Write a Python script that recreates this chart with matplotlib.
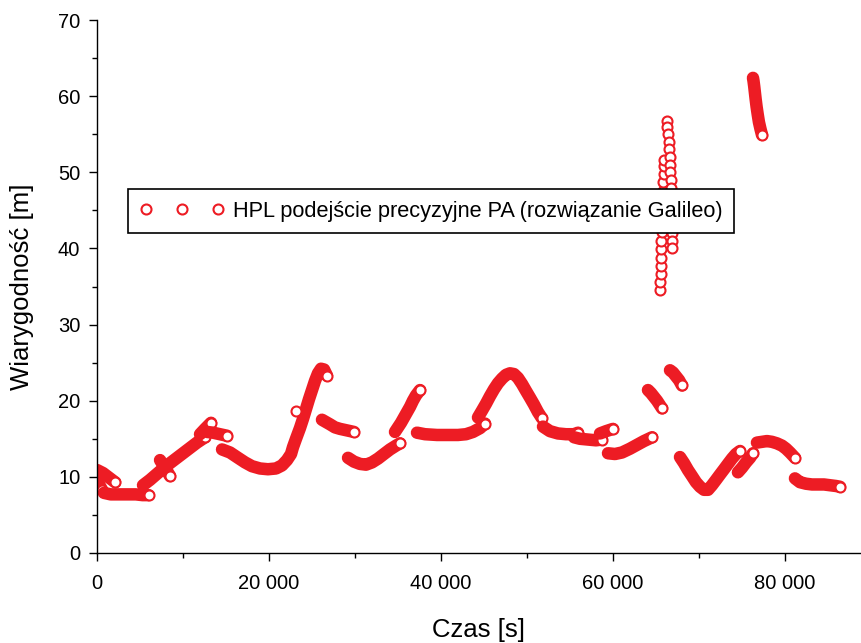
import matplotlib
matplotlib.use("Agg")
import matplotlib.pyplot as plt
from matplotlib.lines import Line2D
from matplotlib.ticker import MultipleLocator, FuncFormatter

plt.rcParams['font.family'] = ['Liberation Sans', 'DejaVu Sans']

RED = '#ED1C24'

# ---- data: time [s] and HPL [m], one arc per block ----
t01 = [0, 350, 700, 1050, 1400, 1750, 2100]
h01 = [10.9, 10.7, 10.5, 10.2, 9.9, 9.6, 9.3]
t02 = [0, 300, 580]
h02 = [9.5, 8.9, 8.3]
t03 = [800, 1200, 1600, 2500, 3500, 4500, 5300, 6000]
h03 = [7.9, 7.8, 7.7, 7.7, 7.7, 7.7, 7.6, 7.6]
t04 = [5350, 6160, 6980, 7910, 8840, 9770, 10700, 11630, 12560]
h04 = [8.9, 9.6, 10.4, 11.3, 12.1, 12.9, 13.7, 14.5, 15.2]
t05 = [7330, 7670, 8020, 8490]
h05 = [12.2, 11.6, 11.0, 10.1]
t06 = [11980, 12560, 13260]
h06 = [15.6, 16.3, 17.1]
t07 = [12790, 13500, 14300, 15120]
h07 = [15.9, 15.8, 15.6, 15.4]
t08 = [14540, 15470, 16400, 17210, 18020, 18950, 19880, 20810, 21510, 22090,
       22560, 22790, 23140, 23600, 23950, 24300, 24650, 25000, 25350, 25700,
       26050, 26400, 26740]
h08 = [13.6, 13.2, 12.5, 11.9, 11.4, 11.1, 11.0, 11.1, 11.5, 12.2,
       13.0, 13.9, 15.0, 16.4, 17.6, 18.9, 20.2, 21.4, 22.6, 23.6,
       24.2, 24.1, 23.3]
t09 = [23140]
h09 = [18.6]
t10 = [26160, 27090, 27670, 28260, 29880]
h10 = [17.5, 16.9, 16.5, 16.3, 15.9]
t11 = [29190, 29880, 30580, 31280, 31980, 32680, 33370, 34070, 34770, 35230]
h11 = [12.5, 12.0, 11.7, 11.6, 11.9, 12.4, 13.0, 13.6, 14.1, 14.4]
t12 = [34650, 35000, 35350, 35700, 36050, 36400, 36740, 37090, 37560]
h12 = [15.9, 16.5, 17.1, 17.8, 18.5, 19.2, 20.0, 20.7, 21.4]
t13 = [37210, 38140, 39540, 41050, 41980, 42910, 43720, 44540, 45120]
h13 = [15.8, 15.6, 15.5, 15.5, 15.5, 15.6, 15.9, 16.4, 17.0]
t14 = [44300, 44770, 45230, 45700, 46160, 46630, 47090, 47560, 48020, 48490,
       48950, 49420, 49880, 50350, 50810, 51280, 51740]
h14 = [17.8, 18.7, 19.6, 20.6, 21.5, 22.3, 22.9, 23.4, 23.6, 23.5,
       23.0, 22.2, 21.3, 20.4, 19.5, 18.5, 17.7]
t15 = [51860, 52670, 53600, 54540, 55470, 55930]
h15 = [16.6, 16.0, 15.7, 15.6, 15.6, 15.8]
t16 = [55470, 56160, 57090, 58020, 58720]
h16 = [15.2, 15.0, 14.9, 14.8, 14.9]
t17 = [58490, 59190, 60000]
h17 = [15.7, 16.0, 16.3]
t18 = [59420, 60230, 61050, 61980, 62790, 63600, 64540]
h18 = [13.1, 13.0, 13.2, 13.7, 14.2, 14.7, 15.2]
t19 = [64070, 64420, 64770, 65120, 65470, 65700]
h19 = [21.4, 21.0, 20.5, 20.0, 19.4, 19.0]
t20 = [66630, 66980, 67330, 67680, 68020]
h20 = [24.0, 23.7, 23.2, 22.7, 22.0]
t21 = [67790, 68260, 68720, 69190, 69650, 70120, 70580, 71050, 71510, 71980,
       72440, 72910, 73370, 73840, 74300, 74770]
h21 = [12.6, 11.8, 10.9, 10.1, 9.3, 8.7, 8.3, 8.3, 8.9, 9.6,
       10.3, 11.0, 11.7, 12.4, 13.0, 13.4]
t22 = [74530, 75000, 75470, 75930, 76280]
h22 = [10.6, 11.2, 11.9, 12.5, 13.1]
t23 = [76280, 76340, 76420, 76500, 76590, 76700, 76830, 76970, 77150, 77330]
h23 = [62.4, 62.0, 61.3, 60.5, 59.6, 58.6, 57.6, 56.6, 55.7, 54.9]
t24 = [76740, 77330, 77910, 78490, 79070, 79650, 80120, 80580, 81160]
h24 = [14.5, 14.6, 14.7, 14.6, 14.4, 14.1, 13.7, 13.2, 12.5]
t25 = [81160, 81740, 82440, 83140, 83840, 84540, 85230, 85930, 86400]
h25 = [9.8, 9.3, 9.1, 9.0, 9.0, 9.0, 8.9, 8.8, 8.7]

# sparse, fast-changing epochs (drawn as separate open circles)
tA = [65470, 65500, 65530, 65560, 65590, 65610, 65640, 65670, 65700, 65730,
      65760, 65790, 65820, 65850, 65880, 65910, 65930]
hA = [34.6, 35.6, 36.6, 37.7, 38.8, 39.9, 41.0, 42.1, 43.2, 44.3,
      45.4, 46.5, 47.6, 48.7, 49.8, 50.8, 51.6]
tB = [66280, 66330, 66400, 66460, 66520, 66580, 66630, 66680, 66720, 66760,
      66790, 66810, 66830, 66840, 66850, 66860, 66860, 66870]
hB = [56.7, 55.9, 55.0, 54.0, 53.0, 52.0, 51.0, 50.0, 49.0, 48.0,
      47.0, 46.0, 45.0, 44.0, 43.0, 42.0, 41.0, 40.1]

x_ticks = [0, 20000, 40000, 60000, 80000]
y_ticks = [0, 10, 20, 30, 40, 50, 60, 70]
legend_label = 'HPL podejście precyzyjne PA (rozwiązanie Galileo)'
x_label = 'Czas [s]'
y_label = 'Wiarygodność [m]'

arcs = [(t01, h01), (t02, h02), (t03, h03), (t04, h04), (t05, h05), (t06, h06),
        (t07, h07), (t08, h08), (t09, h09), (t10, h10), (t11, h11), (t12, h12),
        (t13, h13), (t14, h14), (t15, h15), (t16, h16), (t17, h17), (t18, h18),
        (t19, h19)]
arcs_late = [(t20, h20), (t21, h21), (t22, h22), (t23, h23), (t24, h24), (t25, h25)]

fig = plt.figure(figsize=(8.61, 6.43), dpi=100)
ax = fig.add_axes([97/861, 90/643, 764/861, 533/643])

MS, MEW, LW = 7.2, 1.5, 9.0

def draw_arc(t, h):
    if len(t) > 1:
        ax.plot(t, h, '-', color=RED, lw=LW, solid_capstyle='round',
                solid_joinstyle='round', zorder=2)
    ax.plot(t[-1:], h[-1:], 'o', ms=MS, mew=MEW, mfc='white', mec=RED, zorder=2)

for t, h in arcs:
    draw_arc(t, h)
ax.plot(tA, hA, 'o', ls='none', ms=MS, mew=MEW, mfc='white', mec=RED, zorder=2)
ax.plot(tB, hB, 'o', ls='none', ms=MS, mew=MEW, mfc='white', mec=RED, zorder=2)
for t, h in arcs_late:
    draw_arc(t, h)

ax.set_xlim(0, 88840)
ax.set_ylim(0, 70)
ax.set_xticks(x_ticks)
ax.set_yticks(y_ticks)
ax.xaxis.set_minor_locator(MultipleLocator(10000))
ax.yaxis.set_minor_locator(MultipleLocator(5))
ax.xaxis.set_major_formatter(FuncFormatter(lambda v, p: f"{v:,.0f}".replace(",", " ")))
for s in ['top', 'right']:
    ax.spines[s].set_visible(False)
for s in ['left', 'bottom']:
    ax.spines[s].set_linewidth(1.0)
ax.tick_params(axis='both', which='major', direction='out', length=6, width=1.0,
               labelsize=14.5, colors='black')
ax.tick_params(axis='both', which='minor', direction='out', length=3.5, width=1.0)
ax.tick_params(axis='x', which='major', pad=9)
ax.tick_params(axis='y', which='major', pad=6)

ax.set_xlabel(x_label, fontsize=18.5)
ax.set_ylabel(y_label, fontsize=18.5)
ax.xaxis.set_label_coords(0.5, -0.122)
ax.yaxis.set_label_coords(-0.082, 0.5)

handle = Line2D([], [], ls='none', marker='o', ms=MS, mew=MEW, mfc='white', mec=RED)
leg = ax.legend([handle], [legend_label], numpoints=3, loc='center left',
                bbox_to_anchor=(128/861, (643-211)/643), bbox_transform=fig.transFigure,
                frameon=True, fancybox=False, edgecolor='black', framealpha=1,
                handlelength=3.9, handletextpad=0.39, borderpad=0.52,
                borderaxespad=0, fontsize=15.7)
leg.get_frame().set_linewidth(1.2)
leg.set_zorder(5)

fig.savefig('out.png', dpi=100)
